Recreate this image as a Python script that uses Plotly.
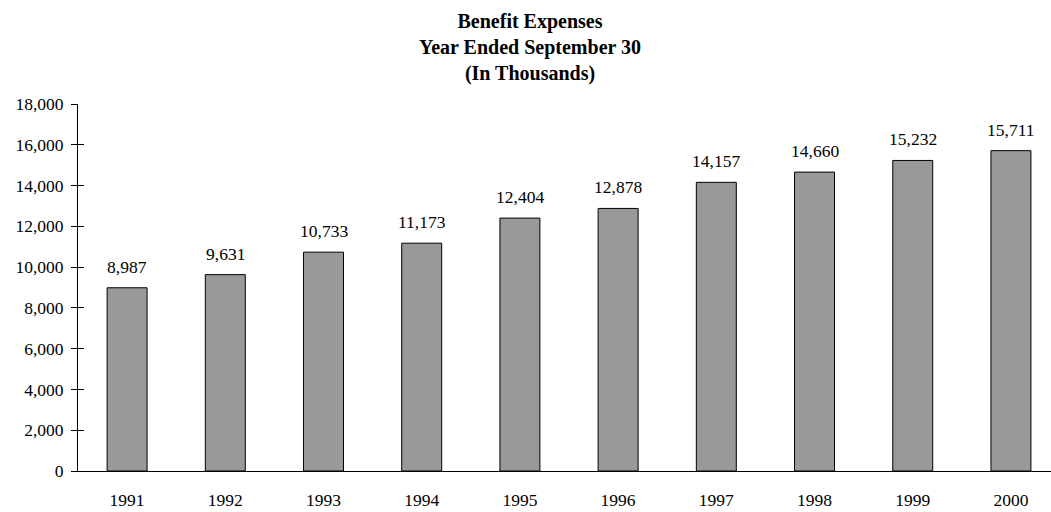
import plotly.graph_objects as go

years = ["1991", "1992", "1993", "1994", "1995", "1996", "1997", "1998", "1999", "2000"]
expenses = [8987, 9631, 10733, 11173, 12404, 12878, 14157, 14660, 15232, 15711]
y_ticks = [0, 2000, 4000, 6000, 8000, 10000, 12000, 14000, 16000, 18000]
title_text = "<b>Benefit Expenses<br>Year Ended September 30<br>(In Thousands)</b>"

FONT = "Liberation Serif, Times New Roman, serif"
pos = list(range(len(years)))

fig = go.Figure()
fig.add_trace(go.Bar(
    x=pos, y=expenses, width=0.407,
    marker=dict(color="#999999", line=dict(color="black", width=1)),
    hoverinfo="skip",
))
fig.add_trace(go.Scatter(x=[0], y=[0], yaxis="y2", mode="markers",
                         marker=dict(opacity=0), hoverinfo="skip", showlegend=False))

for p, v in zip(pos, expenses):
    fig.add_annotation(x=p, y=v, text=f"{v:,}", showarrow=False,
                       yanchor="bottom", yshift=9,
                       font=dict(family=FONT, size=17.5, color="black"))

fig.add_annotation(xref="paper", yref="paper", x=0.4645, y=1, xanchor="center",
                   yanchor="bottom", yshift=17, showarrow=False, text=title_text,
                   font=dict(family=FONT, size=20, color="black"))

fig.update_layout(
    width=1051, height=512,
    margin=dict(l=78, r=0, t=104, b=41, autoexpand=False),
    paper_bgcolor="white", plot_bgcolor="white",
    showlegend=False,
    font=dict(family=FONT, size=17.5, color="black"),
    xaxis=dict(range=[-0.5, 9.408], tickvals=pos, ticktext=years,
               showline=True, linecolor="black", linewidth=1,
               ticks="", showgrid=False, zeroline=False, automargin=False,
               ticklabelstandoff=13, fixedrange=True),
    yaxis=dict(range=[0, 18000], tickvals=y_ticks, tickformat=",d",
               showline=True, linecolor="black", linewidth=1,
               ticks="outside", ticklen=6, tickcolor="black", automargin=False,
               showgrid=False, zeroline=False, ticklabelstandoff=4),
    yaxis2=dict(range=[0, 18000], tickvals=y_ticks, overlaying="y", side="left",
                ticks="inside", ticklen=6, tickcolor="black", automargin=False,
                showticklabels=False, showline=False, showgrid=False, zeroline=False),
)

fig.write_html("out.html", config={"displayModeBar": False},
               post_script="document.body.style.margin='0';document.body.style.overflow='hidden';")
